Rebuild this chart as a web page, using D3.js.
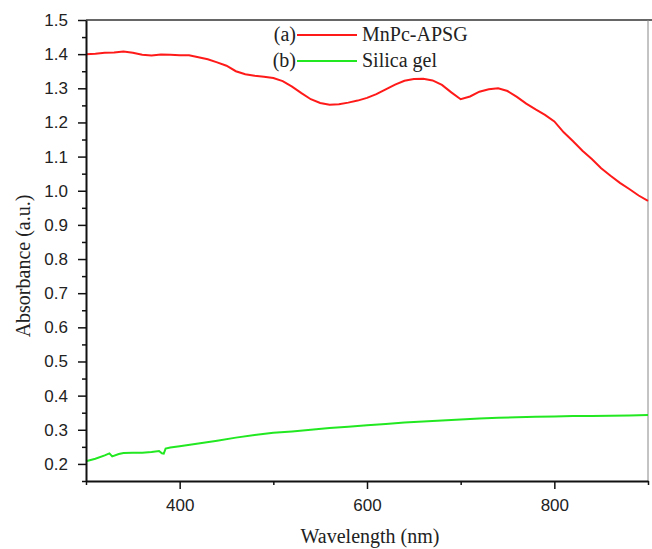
<!DOCTYPE html>
<html>
<head>
<meta charset="utf-8">
<script src="https://cdn.jsdelivr.net/npm/d3@7"></script>
<style>
  body { margin: 0; background: #fff; }
  .axis path, .axis line { stroke: #111; }
  .axis text { font-family: "Liberation Sans", Arial, sans-serif; font-size: 17px; fill: #222; }
  .title { font-family: "Liberation Serif", "Times New Roman", serif; font-size: 20px; fill: #222; }
  .legend { font-family: "Liberation Serif", "Times New Roman", serif; font-size: 20px; fill: #222; }
</style>
</head>
<body>
<main></main>
<script>
var w = 652;
var h = 549;
var margin = { left: 86, right: 2, top: 20, bottom: 68 };

// MnPc-APSG (every 10 nm)
var mnpcWl = [300, 310, 320, 330, 340, 350, 360, 370, 380, 390,
  400, 410, 420, 430, 440, 450, 460, 470, 480, 490,
  500, 510, 520, 530, 540, 550, 560, 570, 580, 590,
  600, 610, 620, 630, 640, 650, 660, 670, 680, 690,
  700, 710, 720, 730, 740, 750, 760, 770, 780, 790,
  800, 810, 820, 830, 840, 850, 860, 870, 880, 890, 900];
var mnpcAbs = [1.400, 1.401, 1.404, 1.405, 1.408, 1.404, 1.398, 1.396, 1.399, 1.398,
  1.397, 1.397, 1.391, 1.385, 1.376, 1.366, 1.350, 1.341, 1.337, 1.334,
  1.330, 1.321, 1.305, 1.286, 1.268, 1.257, 1.252, 1.253, 1.258, 1.264,
  1.272, 1.283, 1.297, 1.311, 1.322, 1.327, 1.328, 1.323, 1.310, 1.288,
  1.268, 1.276, 1.290, 1.297, 1.300, 1.292, 1.275, 1.255, 1.238, 1.222,
  1.203, 1.171, 1.145, 1.117, 1.093, 1.066, 1.044, 1.023, 1.005, 0.986, 0.970];

// Silica gel
var silicaWl = [300, 310, 320, 325, 328, 335, 340, 350, 360, 370, 378, 381, 383, 385, 390,
  400, 420, 440, 460, 480, 500, 520, 540, 560, 580, 600, 620, 640, 660, 680,
  700, 720, 740, 760, 780, 800, 820, 840, 860, 880, 900];
var silicaAbs = [0.208, 0.215, 0.225, 0.231, 0.222, 0.229, 0.232, 0.233, 0.233, 0.235, 0.238, 0.231, 0.230, 0.245, 0.248,
  0.252, 0.260, 0.268, 0.277, 0.285, 0.291, 0.295, 0.300, 0.305, 0.309, 0.313, 0.317, 0.321, 0.324, 0.327,
  0.330, 0.333, 0.335, 0.337, 0.338, 0.339, 0.340, 0.340, 0.341, 0.342, 0.343];

var xMajor = [400, 600, 800];
var xMinor = [300, 500, 700, 900];
var yMajor = [0.2, 0.3, 0.4, 0.5, 0.6, 0.7, 0.8, 0.9, 1.0, 1.1, 1.2, 1.3, 1.4, 1.5];
var yMinor = [0.15, 0.25, 0.35, 0.45, 0.55, 0.65, 0.75, 0.85, 0.95, 1.05, 1.15, 1.25, 1.35, 1.45];

var seriesNames = ["MnPc-APSG", "Silica gel"];
var seriesTags = ["(a)", "(b)"];
var seriesColors = ["#ff1a1a", "#22e822"];

var svg = d3.select("main").append("svg").attr("width", w).attr("height", h);

// scales
var xScale = d3.scaleLinear().domain([300, 900]).range([margin.left, w - margin.right - 2]);
var yScale = d3.scaleLinear().domain([0.15, 1.5]).range([h - margin.bottom, margin.top]);

// frame (top + right)
svg.append("line")
  .attr("x1", margin.left).attr("x2", w)
  .attr("y1", margin.top).attr("y2", margin.top)
  .attr("stroke", "#333").attr("stroke-width", 1.5);
svg.append("line")
  .attr("x1", xScale(900)).attr("x2", xScale(900))
  .attr("y1", margin.top).attr("y2", h - margin.bottom)
  .attr("stroke", "#888").attr("stroke-width", 1);

// lines
var line = d3.line()
  .x(function (d) { return xScale(d[0]); })
  .y(function (d) { return yScale(d[1]); });

svg.append("path")
  .datum(d3.zip(silicaWl, silicaAbs))
  .attr("d", line)
  .attr("fill", "none")
  .attr("stroke", seriesColors[1])
  .attr("stroke-width", 2);

svg.append("path")
  .datum(d3.zip(mnpcWl, mnpcAbs))
  .attr("d", line)
  .attr("fill", "none")
  .attr("stroke", seriesColors[0])
  .attr("stroke-width", 2);

// axes: minor first, then major with labels
svg.append("g")
  .attr("class", "axis")
  .attr("transform", "translate(0," + (h - margin.bottom) + ")")
  .call(d3.axisBottom(xScale).tickValues(xMinor).tickSize(4).tickFormat(""))
  .call(function (g) { g.select(".domain").remove(); g.selectAll("line").attr("stroke-width", 1.5); });
svg.append("g")
  .attr("class", "axis")
  .attr("transform", "translate(0," + (h - margin.bottom) + ")")
  .call(d3.axisBottom(xScale).tickValues(xMajor).tickSize(8).tickSizeOuter(0).tickPadding(10).tickFormat(d3.format("d")))
  .call(function (g) { g.select(".domain").attr("stroke-width", 2); g.selectAll("line").attr("stroke-width", 1.5); });

svg.append("g")
  .attr("class", "axis")
  .attr("transform", "translate(" + margin.left + ",0)")
  .call(d3.axisLeft(yScale).tickValues(yMinor).tickSize(4).tickFormat(""))
  .call(function (g) { g.select(".domain").remove(); g.selectAll("line").attr("stroke-width", 1.5); });
svg.append("g")
  .attr("class", "axis")
  .attr("transform", "translate(" + margin.left + ",0)")
  .call(d3.axisLeft(yScale).tickValues(yMajor).tickSize(8).tickSizeOuter(0).tickPadding(10).tickFormat(d3.format(".1f")))
  .call(function (g) { g.select(".domain").attr("stroke-width", 2); g.selectAll("line").attr("stroke-width", 1.5); });

// axis titles
svg.append("text")
  .attr("class", "title")
  .attr("x", 370)
  .attr("y", 543)
  .attr("text-anchor", "middle")
  .text("Wavelength (nm)");

svg.append("text")
  .attr("class", "title")
  .attr("transform", "translate(30,266) rotate(-90)")
  .attr("text-anchor", "middle")
  .text("Absorbance (a.u.)");

// legend
var legend = svg.selectAll("g.legend-item")
  .data(seriesNames)
  .enter()
  .append("g")
  .attr("transform", function (d, i) { return "translate(0," + (35 + i * 26) + ")"; });

legend.append("text")
  .attr("class", "legend")
  .attr("x", 296).attr("y", 6)
  .attr("text-anchor", "end")
  .text(function (d, i) { return seriesTags[i]; });
legend.append("line")
  .attr("x1", 297).attr("x2", 357)
  .attr("y1", 0).attr("y2", 0)
  .attr("stroke", function (d, i) { return seriesColors[i]; })
  .attr("stroke-width", 2);
legend.append("text")
  .attr("class", "legend")
  .attr("x", 362).attr("y", 6)
  .text(function (d) { return d; });
</script>
</body>
</html>
